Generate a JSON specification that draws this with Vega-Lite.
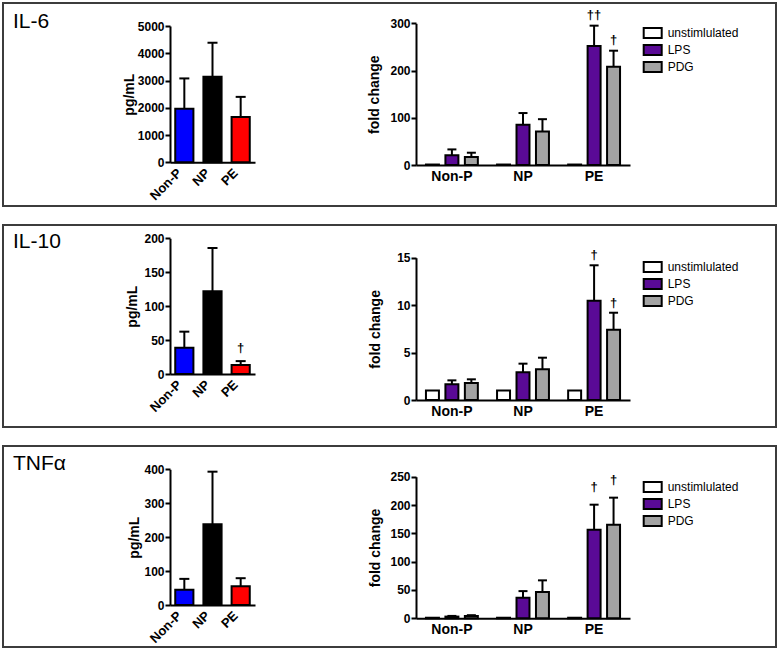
{
  "$schema": "https://vega.github.io/schema/vega-lite/v6.json",
  "padding": {"left": 2, "top": 2, "right": 0, "bottom": 0},
  "spacing": 17,
  "datasets": {
    "left": [
      {"cytokine": "IL-6", "group": "Non-P", "value": 1960, "err": 3077, "sig": ""},
      {"cytokine": "IL-6", "group": "NP", "value": 3136, "err": 4386, "sig": ""},
      {"cytokine": "IL-6", "group": "PE", "value": 1665, "err": 2400, "sig": ""},
      {"cytokine": "IL-10", "group": "Non-P", "value": 38.8, "err": 62.4, "sig": ""},
      {"cytokine": "IL-10", "group": "NP", "value": 121.9, "err": 185.7, "sig": ""},
      {"cytokine": "IL-10", "group": "PE", "value": 13.3, "err": 19, "sig": "†"},
      {"cytokine": "TNFα", "group": "Non-P", "value": 45, "err": 77, "sig": ""},
      {"cytokine": "TNFα", "group": "NP", "value": 238, "err": 393, "sig": ""},
      {"cytokine": "TNFα", "group": "PE", "value": 55, "err": 79, "sig": ""}
    ],
    "right": [
      {"cytokine": "IL-6", "group": "Non-P", "stim": "unstimlulated", "value": 1, "err": null, "sig": ""},
      {"cytokine": "IL-6", "group": "Non-P", "stim": "LPS", "value": 20.5, "err": 33, "sig": ""},
      {"cytokine": "IL-6", "group": "Non-P", "stim": "PDG", "value": 17, "err": 26, "sig": ""},
      {"cytokine": "IL-6", "group": "NP", "stim": "unstimlulated", "value": 1, "err": null, "sig": ""},
      {"cytokine": "IL-6", "group": "NP", "stim": "LPS", "value": 85, "err": 110, "sig": ""},
      {"cytokine": "IL-6", "group": "NP", "stim": "PDG", "value": 71, "err": 97, "sig": ""},
      {"cytokine": "IL-6", "group": "PE", "stim": "unstimlulated", "value": 1, "err": null, "sig": ""},
      {"cytokine": "IL-6", "group": "PE", "stim": "LPS", "value": 252, "err": 295, "sig": "††"},
      {"cytokine": "IL-6", "group": "PE", "stim": "PDG", "value": 208, "err": 242, "sig": "†"},
      {"cytokine": "IL-10", "group": "Non-P", "stim": "unstimlulated", "value": 1, "err": null, "sig": ""},
      {"cytokine": "IL-10", "group": "Non-P", "stim": "LPS", "value": 1.65, "err": 2.07, "sig": ""},
      {"cytokine": "IL-10", "group": "Non-P", "stim": "PDG", "value": 1.8, "err": 2.18, "sig": ""},
      {"cytokine": "IL-10", "group": "NP", "stim": "unstimlulated", "value": 1, "err": null, "sig": ""},
      {"cytokine": "IL-10", "group": "NP", "stim": "LPS", "value": 2.92, "err": 3.83, "sig": ""},
      {"cytokine": "IL-10", "group": "NP", "stim": "PDG", "value": 3.23, "err": 4.46, "sig": ""},
      {"cytokine": "IL-10", "group": "PE", "stim": "unstimlulated", "value": 1, "err": null, "sig": ""},
      {"cytokine": "IL-10", "group": "PE", "stim": "LPS", "value": 10.47, "err": 14.2, "sig": "†"},
      {"cytokine": "IL-10", "group": "PE", "stim": "PDG", "value": 7.41, "err": 9.2, "sig": "†"},
      {"cytokine": "TNFα", "group": "Non-P", "stim": "unstimlulated", "value": 1, "err": null, "sig": ""},
      {"cytokine": "TNFα", "group": "Non-P", "stim": "LPS", "value": 3, "err": 4.2, "sig": ""},
      {"cytokine": "TNFα", "group": "Non-P", "stim": "PDG", "value": 4, "err": 5.5, "sig": ""},
      {"cytokine": "TNFα", "group": "NP", "stim": "unstimlulated", "value": 1, "err": null, "sig": ""},
      {"cytokine": "TNFα", "group": "NP", "stim": "LPS", "value": 36.5, "err": 48, "sig": ""},
      {"cytokine": "TNFα", "group": "NP", "stim": "PDG", "value": 46.5, "err": 67, "sig": ""},
      {"cytokine": "TNFα", "group": "PE", "stim": "unstimlulated", "value": 1, "err": null, "sig": ""},
      {"cytokine": "TNFα", "group": "PE", "stim": "LPS", "value": 156.5, "err": 200.6, "sig": "†"},
      {"cytokine": "TNFα", "group": "PE", "stim": "PDG", "value": 165, "err": 213, "sig": "†"}
    ]
  },
  "vconcat": [
    {
      "width": 773, "height": 203,
      "title": {"text": "IL-6", "anchor": "start", "frame": "group", "offset": -29, "baseline": "top", "dx": 10, "fontSize": 21, "fontWeight": "normal", "color": "black"},
      "resolve": {"scale": {"x": "independent", "y": "independent", "fill": "independent"}, "axis": {"x": "independent", "y": "independent"}, "legend": {"fill": "independent"}},
      "layer": [
        {
          "data": {"name": "left"},
          "transform": [{"filter": "datum.cytokine === 'IL-6'"}],
          "encoding": {"x": {"field": "group", "type": "nominal", "sort": ["Non-P", "NP", "PE"], "scale": {"range": [167, 252], "paddingInner": 0.355, "paddingOuter": 0.186}, "axis": {"title": null, "orient": "bottom", "offset": -43.7, "labelAngle": -45, "labelFontSize": 13, "ticks": false, "labelPadding": 4, "labelOffset": -9}}},
          "layer": [
            {"mark": {"type": "bar", "stroke": "black", "strokeWidth": 2}, "encoding": {"y": {"field": "value", "type": "quantitative", "scale": {"domain": [0, 5000], "range": [159.3, 23], "nice": false}, "axis": {"orient": "left", "offset": -167, "values": [0, 1000, 2000, 3000, 4000, 5000], "format": "d", "title": "pg/mL", "titleX": -34}}, "fill": {"field": "group", "type": "nominal", "scale": {"domain": ["Non-P", "NP", "PE"], "range": ["#0000ff", "#000000", "#ff0000"]}, "legend": null}}},
            {"transform": [{"filter": "isValid(datum.err)"}], "mark": {"type": "rule", "color": "black", "strokeWidth": 2}, "encoding": {"y": {"field": "value", "type": "quantitative"}, "y2": {"field": "err"}}},
            {"transform": [{"filter": "isValid(datum.err)"}], "mark": {"type": "point", "shape": "stroke", "size": 100, "color": "black", "strokeWidth": 2, "filled": false, "opacity": 1}, "encoding": {"y": {"field": "err", "type": "quantitative"}}},
            {"mark": {"type": "text", "baseline": "bottom", "dy": -4, "fontSize": 13, "fontWeight": "bold", "color": "black"}, "encoding": {"y": {"field": "err", "type": "quantitative"}, "text": {"field": "sig"}}}
          ]
        },
        {
          "data": {"name": "right"},
          "transform": [{"filter": "datum.cytokine === 'IL-6'"}],
          "encoding": {
            "x": {"field": "group", "type": "nominal", "sort": ["Non-P", "NP", "PE"], "scale": {"range": [413, 627], "paddingInner": 0.27, "paddingOuter": 0.14}, "axis": {"title": null, "orient": "bottom", "offset": -41, "labelAngle": 0, "labelFontSize": 14, "ticks": false, "labelPadding": 4}},
            "xOffset": {"field": "stim", "type": "nominal", "sort": ["unstimlulated", "LPS", "PDG"], "scale": {"paddingInner": 0.333, "paddingOuter": 0}}
          },
          "layer": [
            {"mark": {"type": "bar", "stroke": "black", "strokeWidth": 2}, "encoding": {"y": {"field": "value", "type": "quantitative", "scale": {"domain": [0, 300], "range": [162, 20.3], "nice": false}, "axis": {"orient": "left", "offset": -413, "values": [0, 100, 200, 300], "title": "fold change", "titleX": -35}}, "fill": {"field": "stim", "type": "nominal", "sort": ["unstimlulated", "LPS", "PDG"], "scale": {"domain": ["unstimlulated", "LPS", "PDG"], "range": ["#ffffff", "#5a0a96", "#a3a3a3"]}, "legend": {"orient": "none", "legendX": 643.7, "legendY": 24}}}},
            {"transform": [{"filter": "isValid(datum.err)"}], "mark": {"type": "rule", "color": "black", "strokeWidth": 2}, "encoding": {"y": {"field": "value", "type": "quantitative"}, "y2": {"field": "err"}}},
            {"transform": [{"filter": "isValid(datum.err)"}], "mark": {"type": "point", "shape": "stroke", "size": 81, "color": "black", "strokeWidth": 2, "filled": false, "opacity": 1}, "encoding": {"y": {"field": "err", "type": "quantitative"}}},
            {"transform": [{"filter": "isValid(datum.err)"}], "mark": {"type": "text", "baseline": "bottom", "dy": -4, "fontSize": 13, "fontWeight": "bold", "color": "black"}, "encoding": {"y": {"field": "err", "type": "quantitative"}, "text": {"field": "sig"}}}
          ]
        }
      ]
    },
    {
      "width": 773, "height": 202,
      "title": {"text": "IL-10", "anchor": "start", "frame": "group", "offset": -27, "baseline": "top", "dx": 10, "fontSize": 21, "fontWeight": "normal", "color": "black"},
      "resolve": {"scale": {"x": "independent", "y": "independent", "fill": "independent"}, "axis": {"x": "independent", "y": "independent"}, "legend": {"fill": "independent"}},
      "layer": [
        {
          "data": {"name": "left"},
          "transform": [{"filter": "datum.cytokine === 'IL-10'"}],
          "encoding": {"x": {"field": "group", "type": "nominal", "sort": ["Non-P", "NP", "PE"], "scale": {"range": [167, 252], "paddingInner": 0.355, "paddingOuter": 0.186}, "axis": {"title": null, "orient": "bottom", "offset": -53, "labelAngle": -45, "labelFontSize": 13, "ticks": false, "labelPadding": 4, "labelOffset": -9}}},
          "layer": [
            {"mark": {"type": "bar", "stroke": "black", "strokeWidth": 2}, "encoding": {"y": {"field": "value", "type": "quantitative", "scale": {"domain": [0, 200], "range": [149, 13.3], "nice": false}, "axis": {"orient": "left", "offset": -167, "values": [0, 50, 100, 150, 200], "title": "pg/mL", "titleX": -30.5}}, "fill": {"field": "group", "type": "nominal", "scale": {"domain": ["Non-P", "NP", "PE"], "range": ["#0000ff", "#000000", "#ff0000"]}, "legend": null}}},
            {"transform": [{"filter": "isValid(datum.err)"}], "mark": {"type": "rule", "color": "black", "strokeWidth": 2}, "encoding": {"y": {"field": "value", "type": "quantitative"}, "y2": {"field": "err"}}},
            {"transform": [{"filter": "isValid(datum.err)"}], "mark": {"type": "point", "shape": "stroke", "size": 100, "color": "black", "strokeWidth": 2, "filled": false, "opacity": 1}, "encoding": {"y": {"field": "err", "type": "quantitative"}}},
            {"mark": {"type": "text", "baseline": "bottom", "dy": -6, "fontSize": 13, "fontWeight": "bold", "color": "black"}, "encoding": {"y": {"field": "err", "type": "quantitative"}, "text": {"field": "sig"}}}
          ]
        },
        {
          "data": {"name": "right"},
          "transform": [{"filter": "datum.cytokine === 'IL-10'"}],
          "encoding": {
            "x": {"field": "group", "type": "nominal", "sort": ["Non-P", "NP", "PE"], "scale": {"range": [413, 627], "paddingInner": 0.27, "paddingOuter": 0.14}, "axis": {"title": null, "orient": "bottom", "offset": -27, "labelAngle": 0, "labelFontSize": 14, "ticks": false, "labelPadding": 4}},
            "xOffset": {"field": "stim", "type": "nominal", "sort": ["unstimlulated", "LPS", "PDG"], "scale": {"paddingInner": 0.333, "paddingOuter": 0}}
          },
          "layer": [
            {"mark": {"type": "bar", "stroke": "black", "strokeWidth": 2}, "encoding": {"y": {"field": "value", "type": "quantitative", "scale": {"domain": [0, 15], "range": [175, 32.7], "nice": false}, "axis": {"orient": "left", "offset": -413, "values": [0, 5, 10, 15], "title": "fold change", "titleX": -34}}, "fill": {"field": "stim", "type": "nominal", "sort": ["unstimlulated", "LPS", "PDG"], "scale": {"domain": ["unstimlulated", "LPS", "PDG"], "range": ["#ffffff", "#5a0a96", "#a3a3a3"]}, "legend": {"orient": "none", "legendX": 643.7, "legendY": 36}}}},
            {"transform": [{"filter": "isValid(datum.err)"}], "mark": {"type": "rule", "color": "black", "strokeWidth": 2}, "encoding": {"y": {"field": "value", "type": "quantitative"}, "y2": {"field": "err"}}},
            {"transform": [{"filter": "isValid(datum.err)"}], "mark": {"type": "point", "shape": "stroke", "size": 81, "color": "black", "strokeWidth": 2, "filled": false, "opacity": 1}, "encoding": {"y": {"field": "err", "type": "quantitative"}}},
            {"transform": [{"filter": "isValid(datum.err)"}], "mark": {"type": "text", "baseline": "bottom", "dy": -3, "fontSize": 13, "fontWeight": "bold", "color": "black"}, "encoding": {"y": {"field": "err", "type": "quantitative"}, "text": {"field": "sig"}}}
          ]
        }
      ]
    },
    {
      "width": 773, "height": 201,
      "title": {"text": "TNFα", "anchor": "start", "frame": "group", "offset": -28, "baseline": "top", "dx": 10, "fontSize": 21, "fontWeight": "normal", "color": "black"},
      "resolve": {"scale": {"x": "independent", "y": "independent", "fill": "independent"}, "axis": {"x": "independent", "y": "independent"}, "legend": {"fill": "independent"}},
      "layer": [
        {
          "data": {"name": "left"},
          "transform": [{"filter": "datum.cytokine === 'TNFα'"}],
          "encoding": {"x": {"field": "group", "type": "nominal", "sort": ["Non-P", "NP", "PE"], "scale": {"range": [167, 252], "paddingInner": 0.355, "paddingOuter": 0.186}, "axis": {"title": null, "orient": "bottom", "offset": -42, "labelAngle": -45, "labelFontSize": 13, "ticks": false, "labelPadding": 4, "labelOffset": -9}}},
          "layer": [
            {"mark": {"type": "bar", "stroke": "black", "strokeWidth": 2}, "encoding": {"y": {"field": "value", "type": "quantitative", "scale": {"domain": [0, 400], "range": [159, 23.3], "nice": false}, "axis": {"orient": "left", "offset": -167, "values": [0, 100, 200, 300, 400], "title": "pg/mL", "titleX": -29}}, "fill": {"field": "group", "type": "nominal", "scale": {"domain": ["Non-P", "NP", "PE"], "range": ["#0000ff", "#000000", "#ff0000"]}, "legend": null}}},
            {"transform": [{"filter": "isValid(datum.err)"}], "mark": {"type": "rule", "color": "black", "strokeWidth": 2}, "encoding": {"y": {"field": "value", "type": "quantitative"}, "y2": {"field": "err"}}},
            {"transform": [{"filter": "isValid(datum.err)"}], "mark": {"type": "point", "shape": "stroke", "size": 100, "color": "black", "strokeWidth": 2, "filled": false, "opacity": 1}, "encoding": {"y": {"field": "err", "type": "quantitative"}}}
          ]
        },
        {
          "data": {"name": "right"},
          "transform": [{"filter": "datum.cytokine === 'TNFα'"}],
          "encoding": {
            "x": {"field": "group", "type": "nominal", "sort": ["Non-P", "NP", "PE"], "scale": {"range": [413, 627], "paddingInner": 0.27, "paddingOuter": 0.14}, "axis": {"title": null, "orient": "bottom", "offset": -28.7, "labelAngle": 0, "labelFontSize": 14, "ticks": false, "labelPadding": 4}},
            "xOffset": {"field": "stim", "type": "nominal", "sort": ["unstimlulated", "LPS", "PDG"], "scale": {"paddingInner": 0.333, "paddingOuter": 0}}
          },
          "layer": [
            {"mark": {"type": "bar", "stroke": "black", "strokeWidth": 2}, "encoding": {"y": {"field": "value", "type": "quantitative", "scale": {"domain": [0, 250], "range": [172.3, 30.7], "nice": false}, "axis": {"orient": "left", "offset": -413, "values": [0, 50, 100, 150, 200, 250], "title": "fold change", "titleX": -34}}, "fill": {"field": "stim", "type": "nominal", "sort": ["unstimlulated", "LPS", "PDG"], "scale": {"domain": ["unstimlulated", "LPS", "PDG"], "range": ["#ffffff", "#5a0a96", "#a3a3a3"]}, "legend": {"orient": "none", "legendX": 643.7, "legendY": 35}}}},
            {"transform": [{"filter": "isValid(datum.err)"}], "mark": {"type": "rule", "color": "black", "strokeWidth": 2}, "encoding": {"y": {"field": "value", "type": "quantitative"}, "y2": {"field": "err"}}},
            {"transform": [{"filter": "isValid(datum.err)"}], "mark": {"type": "point", "shape": "stroke", "size": 81, "color": "black", "strokeWidth": 2, "filled": false, "opacity": 1}, "encoding": {"y": {"field": "err", "type": "quantitative"}}},
            {"transform": [{"filter": "isValid(datum.err)"}], "mark": {"type": "text", "baseline": "bottom", "dy": -11, "fontSize": 13, "fontWeight": "bold", "color": "black"}, "encoding": {"y": {"field": "err", "type": "quantitative"}, "text": {"field": "sig"}}}
          ]
        }
      ]
    }
  ],
  "config": {
    "font": "Liberation Sans",
    "view": {"stroke": "#3c3c3c", "strokeWidth": 2},
    "axis": {"grid": false, "domainColor": "black", "domainWidth": 2, "tickColor": "black", "tickWidth": 2, "tickSize": 5, "labelColor": "black", "labelFontWeight": "bold", "labelFontSize": 12, "labelPadding": 1, "labelOverlap": false, "labelFlush": false, "titleFontSize": 14, "titleFontWeight": "bold", "titleColor": "black"},
    "legend": {"title": null, "padding": 0, "symbolType": "M-1.8,-1H1.8V1H-1.8Z", "symbolSize": 100, "symbolStrokeColor": "black", "symbolStrokeWidth": 2, "symbolOpacity": 1, "labelFontSize": 12, "labelColor": "black", "labelOffset": 9, "rowPadding": -1}
  }
}
